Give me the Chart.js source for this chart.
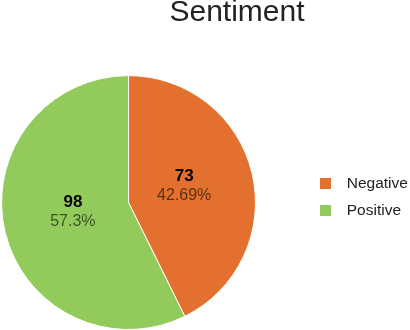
<!DOCTYPE html>
<html><head><meta charset="utf-8">
<script src="https://cdn.jsdelivr.net/npm/chart.js@4.4.0/dist/chart.umd.min.js"></script>
<style>html,body{margin:0;padding:0;background:#fff}</style>
</head><body>
<canvas id="c" width="410" height="330"></canvas>
<script>
const chartTitle = 'Sentiment';
const categories = ['Negative', 'Positive'];
const values = [73, 98];
const percentLabels = ['42.69%', '57.3%'];
const colors = ['#E3702F', '#92CB5B'];

const FONT = "'Liberation Sans', Arial, Helvetica, sans-serif";

function swatch(color) {
  const c = document.createElement('canvas');
  c.width = 11; c.height = 11;
  const x = c.getContext('2d');
  x.fillStyle = color; x.fillRect(0, 0, 11, 11);
  return c;
}

const labelPlugin = {
  id: 'sliceLabels',
  afterDatasetsDraw(chart) {
    const ctx = chart.ctx;
    const meta = chart.getDatasetMeta(0);
    meta.data.forEach((arc, i) => {
      const p = arc.getProps(['x', 'y', 'startAngle', 'endAngle', 'outerRadius'], true);
      const mid = (p.startAngle + p.endAngle) / 2;
      const r = p.outerRadius * 0.45;
      const px = p.x + Math.cos(mid) * r;
      const py = p.y + Math.sin(mid) * r - 3.5;
      ctx.save();
      ctx.textAlign = 'center';
      ctx.textBaseline = 'middle';
      ctx.font = 'bold 17px ' + FONT;
      ctx.fillStyle = '#000';
      ctx.fillText(String(values[i]), px, py - 9.5);
      ctx.font = '16px ' + FONT;
      ctx.fillStyle = 'rgba(0,0,0,0.6)';
      ctx.fillText(percentLabels[i], px, py + 9.5);
      ctx.restore();
    });
  }
};

const placePlugin = {
  id: 'place',
  afterLayout(chart) {
    const t = chart.titleBlock;
    if (t) { t.left = 64; t.right = 410; }
    const lg = chart.legend;
    if (lg) {
      const w = lg.right - lg.left;
      lg.left = 301; lg.right = lg.left + w;
      lg.top += 32; lg.bottom += 32;
    }
  }
};

new Chart(document.getElementById('c'), {
  type: 'pie',
  data: {
    labels: categories,
    datasets: [{
      data: values,
      backgroundColor: colors,
      borderColor: '#fff',
      borderWidth: 1
    }]
  },
  options: {
    responsive: false,
    devicePixelRatio: 1,
    animation: false,
    layout: { padding: { left: 0, right: 36, top: 0, bottom: 0 } },
    plugins: {
      tooltip: { enabled: false },
      title: {
        display: true,
        text: chartTitle,
        color: '#222',
        font: { family: FONT, size: 30, weight: 'normal', lineHeight: 0.87 },
        padding: { top: 0, bottom: 49 }
      },
      legend: {
        position: 'right',
        labels: {
          usePointStyle: true,
          pointStyleWidth: 27,
          boxHeight: 11,
          padding: 11,
          color: '#222',
          font: { family: FONT, size: 15.5 },
          generateLabels(chart) {
            const items = Chart.overrides.pie.plugins.legend.labels.generateLabels(chart);
            return items.map((it, i) => Object.assign(it, { pointStyle: swatch(colors[i]) }));
          }
        }
      }
    }
  },
  plugins: [labelPlugin, placePlugin]
});
</script>
</body></html>
